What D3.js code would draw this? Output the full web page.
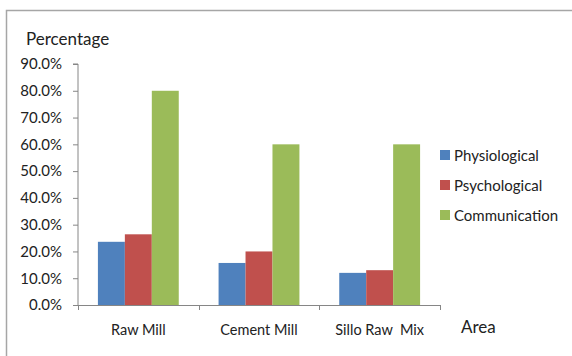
<!DOCTYPE html>
<html><head><meta charset="utf-8">
<script src="https://cdn.jsdelivr.net/npm/d3@7"></script>
<style>body{margin:0;background:#fff}svg{display:block}text{font-family:Lato,"Open Sans",sans-serif;fill:#222}</style>
</head><body><svg id="c" width="572" height="356"></svg>
<script>
const categories = ["Raw Mill", "Cement Mill", "Sillo Raw\u00a0 Mix"];
const seriesNames = ["Physiological", "Psychological", "Communication"];
const physiological = [0.236, 0.157, 0.12];
const psychological = [0.264, 0.20, 0.13];
const communication = [0.80, 0.60, 0.60];
const colors = ["#4f81bd", "#c0504d", "#9bbb59"];
const yTicks = [0, 0.1, 0.2, 0.3, 0.4, 0.5, 0.6, 0.7, 0.8, 0.9];

const series = [physiological, psychological, communication];
const svg = d3.select("#c");
// outer frame
svg.append("rect").attr("x", 6.5).attr("y", 10.5).attr("width", 600).attr("height", 400)
  .attr("fill", "none").attr("stroke", "#a6a6a6").attr("stroke-width", 1.5);

const x0 = 78, x1 = 440, yb = 305, yt = 64;
const x = d3.scaleBand().domain(categories).range([x0, x1]).paddingInner(0.33).paddingOuter(0.165);
const xs = d3.scaleBand().domain(seriesNames).range([0, x.bandwidth()]);
const y = d3.scaleLinear().domain([0, 0.9]).range([yb, yt]);

// y axis
const ya = svg.append("g").attr("transform", `translate(${x0},0)`)
  .call(d3.axisLeft(y).tickValues(yTicks).tickFormat(d3.format(".1%")).tickSize(5).tickPadding(11));
ya.select(".domain").attr("stroke", "#868686").attr("d", `M-5,${yt}H0V${yb}`);
ya.selectAll(".tick line").attr("stroke", "#868686");
ya.selectAll(".tick text").attr("font-size", 15).style("font-family", "Lato, sans-serif").attr("fill", "#222");

// bars
series.forEach((s, si) => {
  svg.append("g").selectAll("rect").data(s).join("rect")
    .attr("x", (d, i) => x(categories[i]) + xs(seriesNames[si]))
    .attr("width", xs.bandwidth())
    .attr("y", d => y(d))
    .attr("height", d => yb - y(d))
    .attr("fill", colors[si]);
});

// x axis
const xa = svg.append("g").attr("transform", `translate(0,${yb})`);
xa.append("line").attr("x1", x0).attr("x2", x1).attr("y1", 0.5).attr("y2", 0.5).attr("stroke", "#868686");
const bounds = [x0].concat(categories.map(c => x(c) + x.bandwidth() + x.step() * 0.33 / 2));
xa.selectAll("line.t").data(bounds).join("line").attr("class", "t")
  .attr("x1", d => Math.round(d) + 0.5).attr("x2", d => Math.round(d) + 0.5).attr("y1", 0).attr("y2", 5).attr("stroke", "#868686");
xa.selectAll("text").data(categories).join("text")
  .attr("x", d => x(d) + x.bandwidth() / 2).attr("y", 30).attr("text-anchor", "middle")
  .attr("font-size", 14.5).text(d => d);

// axis titles
svg.append("text").attr("x", 26).attr("y", 45).attr("font-size", 17).text("Percentage");
svg.append("text").attr("x", 461).attr("y", 333).attr("font-size", 17).text("Area");

// legend
const lg = svg.append("g").selectAll("g").data(seriesNames).join("g")
  .attr("transform", (d, i) => `translate(440,${150 + i * 30})`);
lg.append("rect").attr("width", 10).attr("height", 10).attr("fill", (d, i) => colors[i]);
lg.append("text").attr("x", 14).attr("y", 10.5).attr("font-size", 15).text(d => d);
</script></body></html>
